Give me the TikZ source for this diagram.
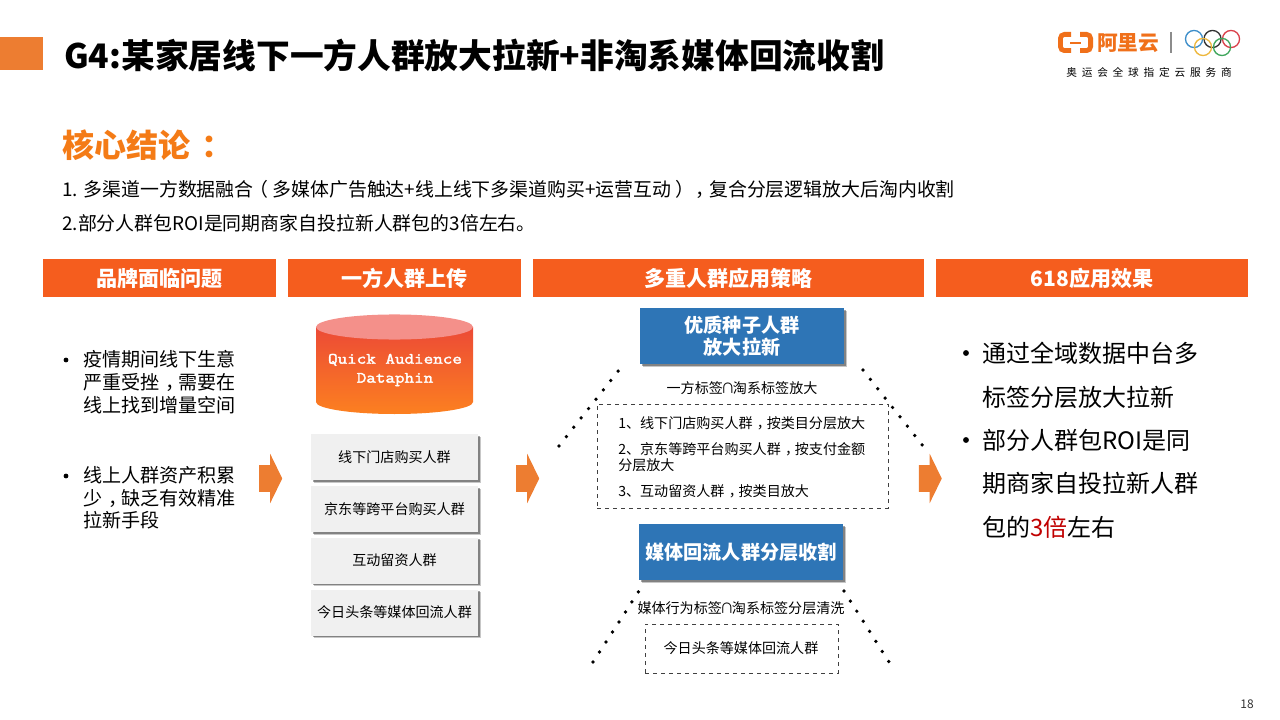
\documentclass[tikz,border=0pt]{standalone}
\usepackage{fontspec}
\setmainfont{Noto Sans CJK SC}
\newfontfamily\monofam[FakeStretch=1.18,FakeBold=2.2]{Latin Modern Mono}
\newfontfamily\spacedfam[LetterSpace=45]{Noto Sans CJK SC}
\usetikzlibrary{shapes.arrows,shadows}
\definecolor{barorange}{HTML}{F55D1E}
\definecolor{markorange}{HTML}{ED7D31}
\definecolor{headorange}{HTML}{F47B16}
\definecolor{logoorange}{HTML}{F0701A}
\definecolor{seedblue}{HTML}{2E75B6}
\definecolor{boxgray}{HTML}{F0F0F0}
\definecolor{cylpink}{HTML}{F4908A}
\definecolor{cyltop}{HTML}{EC4A36}
\definecolor{cylbot}{HTML}{FC8020}
\definecolor{accentred}{HTML}{C00000}
\definecolor{ringblue}{HTML}{3C8DC9}
\definecolor{ringred}{HTML}{D9404A}
\definecolor{ringyellow}{HTML}{EDB73C}
\definecolor{ringgreen}{HTML}{3FA65C}
% punctuation sits in the middle of its cell
\newcommand{\pcomma}{\kern0.3em，\kern-0.3em}
\newcommand{\pcolon}{\kern0.35em：\kern-0.35em}
\newcommand{\popen}{\kern-0.2em（\kern0.2em}
\newcommand{\pclose}{\kern0.2em）\kern-0.2em}
\newcommand{\pcap}{\kern-1.5pt∩\kern-1.5pt}

\begin{document}
\begin{tikzpicture}[
	x=0.75pt, y=-0.75pt,
	softshadow/.style={
		drop shadow={shadow xshift=2.2pt, shadow yshift=-2.2pt, fill=black, opacity=0.22},
		drop shadow={shadow xshift=1.3pt, shadow yshift=-1.3pt, fill=black, opacity=0.35}},
	headbar/.style={fill=barorange, minimum height=28.5pt, inner sep=0pt, text=white, font=\fontsize{15.8}{20}\selectfont\bfseries},
	groupbox/.style={fill=boxgray, minimum width=125.25pt, minimum height=34.5pt, inner sep=0pt, softshadow, font=\fontsize{10.55}{13}\selectfont},
	seedbox/.style={fill=seedblue, minimum width=153pt, minimum height=42pt, inner sep=0pt, softshadow, text=white, align=center, font=\fontsize{14.35}{16.5}\selectfont\bfseries},
	dashbox/.style={draw=black!75, dashed, line width=0.6pt, inner sep=0pt},
	blockarrow/.style={single arrow, fill=markorange, minimum height=17.25pt, single arrow head extend=8.6pt, single arrow tip angle=128, inner xsep=0pt, inner ysep=9.75pt},
	bullettext/.style={anchor=north west, align=left, inner sep=0pt},
	bulletdot/.style={circle, fill=black, inner sep=0pt, minimum size=#1},
	smalltext/.style={inner sep=0pt, font=\fontsize{10.55}{12}\selectfont},
	dotline/.style={line width=2.8pt, line cap=round, dash pattern=on 0pt off 8.95pt},
	ring/.style={draw=#1, line width=1pt, circle, minimum size=12.8pt, inner sep=0pt}
	]
	\useasboundingbox (0,0) rectangle (1280,720);
	
	%-----------------------
	% Title and conclusion
	%-----------------------
	\fill[markorange] (0,37) rectangle (43,70);
	\node[anchor=west, inner sep=0pt, font=\fontsize{25.3}{30}\selectfont\bfseries] (title) at (64,55) {G4:某家居线下一方人群放大拉新+非淘系媒体回流收割};
	\node[anchor=west, inner sep=0pt, text=headorange, font=\fontsize{24}{28}\selectfont\bfseries] (concl) at (62,145) {核心结论\pcolon};
	\node[anchor=west, inner sep=0pt, font=\fontsize{14.17}{18}\selectfont] (concl1) at (62,189.5) {1. 多渠道一方数据融合\popen 多媒体广告触达+线上线下多渠道购买+运营互动\pclose\pcomma 复合分层逻辑放大后淘内收割};
	\node[anchor=west, inner sep=0pt, font=\fontsize{14.17}{18}\selectfont] (concl2) at (62,223.5) {2.部分人群包ROI是同期商家自投拉新人群包的3倍左右。};
	
	%-----------------------
	% Logo
	%-----------------------
	\draw[logoorange, line width=3.6pt, rounded corners=3pt] (1071,34.4) -- (1060.4,34.4) -- (1060.4,50.6) -- (1071,50.6);
	\draw[logoorange, line width=3.6pt, rounded corners=3pt] (1080,34.4) -- (1090.6,34.4) -- (1090.6,50.6) -- (1080,50.6);
	\draw[logoorange, line width=1.6pt] (1070,43) -- (1081,43);
	\node[anchor=west, inner sep=0pt, text=logoorange, font=\fontsize{15.5}{18}\selectfont\bfseries] (aliyun) at (1097,43) {阿里云};
	\draw[black!45, line width=0.9pt] (1171,32) -- (1171,53);
	\node[ring=ringblue] (ringB) at (1194,39) {};
	\node[ring=black!80] (ringK) at (1212.5,39) {};
	\node[ring=ringred] (ringR) at (1231,39) {};
	\node[ring=ringyellow] (ringY) at (1203,47) {};
	\node[ring=ringgreen] (ringG) at (1222,47) {};
	\node[inner sep=0pt, font=\fontsize{8}{10}\selectfont\spacedfam] (sponsor) at (1149,72) {奥运会全球指定云服务商};
	
	%-----------------------
	% Column headers
	%-----------------------
	\node[headbar, minimum width=174.75pt] (headA) at (159.5,278) {品牌面临问题};
	\node[headbar, minimum width=174.75pt] (headB) at (404.5,278) {一方人群上传};
	\node[headbar, minimum width=293.25pt] (headC) at (728.5,278) {多重人群应用策略};
	\node[headbar, minimum width=234pt] (headD) at (1092,278) {618应用效果};
	
	%-----------------------
	% Column 1: problems
	%-----------------------
	\node[bulletdot=3.6pt] (bulA1) at (66,360) {};
	\node[bullettext, font=\fontsize{14.3}{16.9}\selectfont] (textA1) at (83,350.5) {疫情期间线下生意\\严重受挫\pcomma 需要在\\线上找到增量空间};
	\node[bulletdot=3.6pt] (bulA2) at (66,476) {};
	\node[bullettext, font=\fontsize{14.3}{16.9}\selectfont] (textA2) at (83,466.5) {线上人群资产积累\\少\pcomma 缺乏有效精准\\拉新手段};
	
	%-----------------------
	% Column 2: cylinder and groups
	%-----------------------
	\shade[top color=cyltop, bottom color=cylbot] (316,327) -- (316,402) arc[start angle=180, end angle=360, x radius=58.875pt, y radius=9pt] -- (473,327) -- cycle;
	\fill[cylpink] (394.5,327) ellipse[x radius=58.875pt, y radius=9.4pt];
	\node[inner sep=0pt, align=center, text=white, font=\fontsize{11.8}{14.2}\selectfont\monofam] (cyltext) at (395,370) {Quick Audience\\Dataphin};
	\node[groupbox] (groupA) at (394.5,457) {线下门店购买人群};
	\node[groupbox] (groupB) at (394.5,509) {京东等跨平台购买人群};
	\node[groupbox] (groupC) at (394.5,560.5) {互动留资人群};
	\node[groupbox] (groupD) at (394.5,612.5) {今日头条等媒体回流人群};
	
	%-----------------------
	% Block arrows between columns
	%-----------------------
	\node[blockarrow] (arrowA) at (267.5,478.5) {};
	\node[blockarrow] (arrowB) at (524.5,478.5) {};
	\node[blockarrow] (arrowC) at (927,478.5) {};
	
	%-----------------------
	% Column 3: strategies
	%-----------------------
	\node[seedbox] (seedA) at (742,336) {优质种子人群\\放大拉新};
	\node[smalltext] (tagA) at (742,388) {一方标签\pcap 淘系标签放大};
	\node[dashbox, minimum width=218.25pt, minimum height=78pt] (dashA) at (742.5,456) {};
	\node[smalltext, anchor=west] (listA) at (618,423) {1、线下门店购买人群\pcomma 按类目分层放大};
	\node[smalltext, anchor=north west, align=left] (listB) at (618,442.5) {2、京东等跨平台购买人群\pcomma 按支付金额\\分层放大};
	\node[smalltext, anchor=west] (listC) at (618,491) {3、互动留资人群\pcomma 按类目放大};
	\node[seedbox] (seedB) at (741,552) {媒体回流人群分层收割};
	\node[smalltext] (tagB) at (741,608) {媒体行为标签\pcap 淘系标签分层清洗};
	\node[dashbox, minimum width=144.75pt, minimum height=36.75pt] (dashB) at (741.5,648.5) {};
	\node[smalltext] (listD) at (741,648.5) {今日头条等媒体回流人群};
	
	% Dotted roof lines
	\coordinate (roofA1) at (559,446);
	\coordinate (roofA2) at (619,370);
	\coordinate (roofB1) at (863,370);
	\coordinate (roofB2) at (923,446);
	\coordinate (roofC1) at (593,662);
	\coordinate (roofC2) at (639,591);
	\coordinate (roofD1) at (844,591);
	\coordinate (roofD2) at (889,662);
	\draw[dotline] (roofA1) -- (roofA2);
	\draw[dotline] (roofB1) -- (roofB2);
	\draw[dotline] (roofC1) -- (roofC2);
	\draw[dotline] (roofD1) -- (roofD2);
	
	%-----------------------
	% Column 4: results
	%-----------------------
	\node[bulletdot=4.4pt] (bulD1) at (966,353) {};
	\node[bulletdot=4.4pt] (bulD2) at (966,440) {};
	\node[bullettext, font=\fontsize{18}{32.5}\selectfont] (textD) at (982,342) {通过全域数据中台多\\标签分层放大拉新\\部分人群包ROI是同\\期商家自投拉新人群\\包的\textcolor{accentred}{3倍}左右};
	
	% Page number
	\node[inner sep=0pt, text=black!80, font=\fontsize{9}{10}\selectfont] (pagenum) at (1247,704) {18};
	
\end{tikzpicture}
\end{document}
